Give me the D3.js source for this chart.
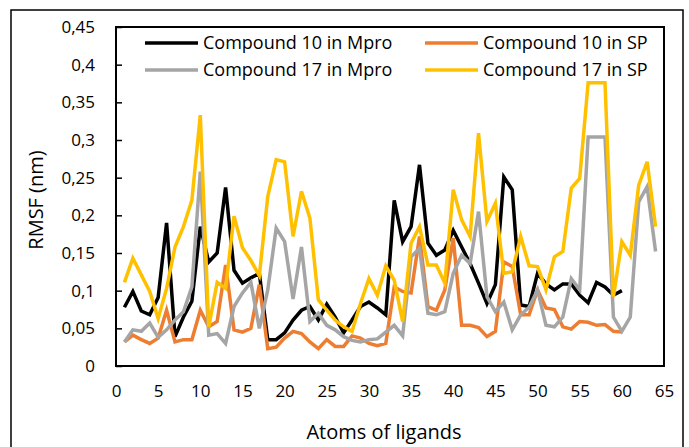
<!DOCTYPE html>
<html>
<head>
<meta charset="utf-8">
<script src="https://cdn.jsdelivr.net/npm/d3@7"></script>
<style>
  body { margin: 0; background: #fff; }
  svg text { font-family: "Open Sans", "Noto Sans", sans-serif; fill: #000; }
  .line { fill: none; stroke-width: 3.5; stroke-linejoin: miter; }
</style>
</head>
<body>
<div class="container"></div>
<script>
// RMSF per ligand atom (nm)
var c10Mpro = [0.078, 0.099, 0.073, 0.068, 0.091, 0.19, 0.039, 0.065, 0.086, 0.185,
  0.138, 0.15, 0.237, 0.127, 0.11, 0.117, 0.123, 0.035, 0.035, 0.044,
  0.061, 0.074, 0.079, 0.061, 0.082, 0.065, 0.044, 0.061, 0.079, 0.085,
  0.077, 0.068, 0.22, 0.165, 0.185, 0.267, 0.163, 0.147, 0.154, 0.18,
  0.158, 0.136, 0.11, 0.083, 0.108, 0.251, 0.234, 0.081, 0.079, 0.123,
  0.109, 0.101, 0.109, 0.109, 0.094, 0.084, 0.111, 0.105, 0.094, 0.1];
var c10SP = [0.032, 0.041, 0.035, 0.03, 0.037, 0.074, 0.032, 0.035, 0.035, 0.074,
  0.052, 0.059, 0.134, 0.048, 0.045, 0.05, 0.108, 0.023, 0.025, 0.037,
  0.046, 0.043, 0.032, 0.023, 0.035, 0.026, 0.026, 0.04, 0.037, 0.03,
  0.027, 0.03, 0.105, 0.099, 0.097, 0.172, 0.079, 0.074, 0.101, 0.17,
  0.054, 0.054, 0.051, 0.039, 0.046, 0.138, 0.132, 0.068, 0.068, 0.101,
  0.077, 0.075, 0.052, 0.049, 0.059, 0.058, 0.054, 0.055, 0.046, 0.045];
var c17Mpro = [0.032, 0.048, 0.046, 0.057, 0.038, 0.048, 0.061, 0.072, 0.105, 0.258,
  0.041, 0.043, 0.03, 0.079, 0.097, 0.111, 0.05, 0.101, 0.183, 0.165,
  0.089, 0.158, 0.059, 0.07, 0.054, 0.048, 0.039, 0.034, 0.032, 0.035,
  0.036, 0.045, 0.054, 0.04, 0.145, 0.156, 0.07, 0.068, 0.072, 0.123,
  0.147, 0.136, 0.205, 0.092, 0.072, 0.085, 0.048, 0.068, 0.078, 0.101,
  0.054, 0.052, 0.065, 0.116, 0.101, 0.304, 0.304, 0.304, 0.065, 0.046,
  0.065, 0.218, 0.238, 0.152];
var c17SP = [0.111, 0.143, 0.121, 0.099, 0.063, 0.103, 0.158, 0.185, 0.22, 0.333,
  0.052, 0.111, 0.103, 0.199, 0.157, 0.14, 0.12, 0.225, 0.274, 0.271,
  0.172, 0.232, 0.196, 0.088, 0.074, 0.061, 0.052, 0.046, 0.083, 0.116,
  0.094, 0.133, 0.114, 0.059, 0.163, 0.185, 0.134, 0.134, 0.11, 0.234,
  0.194, 0.172, 0.309, 0.192, 0.216, 0.123, 0.125, 0.172, 0.133, 0.132,
  0.101, 0.145, 0.152, 0.236, 0.249, 0.376, 0.376, 0.376, 0.092, 0.165,
  0.147, 0.24, 0.271, 0.185];

var seriesNames = ["Compound 10 in Mpro", "Compound 10 in SP", "Compound 17 in Mpro", "Compound 17 in SP"];
var seriesColors = ["#000000", "#ED7D31", "#A5A5A5", "#FFC000"];
var seriesData = [c10Mpro, c10SP, c17Mpro, c17SP];

var xTicks = d3.range(0, 66, 5);
var yTicks = d3.range(0, 0.4501, 0.05);

const WIDTH = 689;
const HEIGHT = 447;
const LEFT = 116, RIGHT = 664, TOP = 27, BOTTOM = 366;

var fmt = function (v) {
  if (v === 0) return "0";
  return d3.format(".2~f")(v).replace(".", ",");
};

var svg = d3.select('.container').append('svg')
  .attr('width', WIDTH)
  .attr('height', HEIGHT);

// outer chart border
svg.append('rect')
  .attr('x', 11).attr('y', 10)
  .attr('width', 672).attr('height', 460)
  .attr('fill', 'none').attr('stroke', '#000').attr('stroke-width', 1.5);

var xScale = d3.scaleLinear().domain([0, 65]).range([LEFT, RIGHT]);
var yScale = d3.scaleLinear().domain([0, 0.45]).range([BOTTOM, TOP]);

// plot area box
svg.append('rect')
  .attr('x', LEFT).attr('y', TOP)
  .attr('width', RIGHT - LEFT).attr('height', BOTTOM - TOP)
  .attr('fill', 'none').attr('stroke', '#000').attr('stroke-width', 2);

// y axis: small inward ticks
var yAxis = d3.axisLeft(yScale).tickValues(yTicks).tickFormat(fmt).tickSizeInner(-6).tickSizeOuter(0).tickPadding(21);
var gy = svg.append('g').attr('transform', 'translate(' + LEFT + ',0)').call(yAxis);
gy.select('.domain').remove();
gy.selectAll('.tick line').attr('stroke', '#000').attr('stroke-width', 1.5);
gy.selectAll('.tick text').style('font-size', '17px');

var xAxis = d3.axisBottom(xScale).tickValues(xTicks).tickSize(0).tickPadding(19);
var gx = svg.append('g').attr('transform', 'translate(0,' + BOTTOM + ')').call(xAxis);
gx.select('.domain').remove();
gx.selectAll('.tick text').style('font-size', '17px');

// series lines, drawn in series order (last one on top)
var line = d3.line()
  .x(function (v, i) { return xScale(i + 1); })
  .y(function (v) { return yScale(v); });

seriesData.forEach(function (d, k) {
  svg.append('path')
    .attr('class', 'line')
    .attr('stroke', seriesColors[k])
    .attr('d', line(d));
});

// legend
var legendPos = [[145, 43], [425, 43], [145, 70], [425, 70]];
seriesNames.forEach(function (name, k) {
  var g = svg.append('g').attr('transform', 'translate(' + legendPos[k][0] + ',' + legendPos[k][1] + ')');
  g.append('line').attr('x1', 0).attr('x2', 53).attr('y1', 0).attr('y2', 0)
    .attr('stroke', seriesColors[k]).attr('stroke-width', 3.5);
  g.append('text').attr('x', 58).attr('y', 0).attr('dy', '0.35em')
    .style('font-size', '18px').text(name);
});

// axis titles
svg.append('text')
  .attr('x', 384).attr('y', 432)
  .attr('text-anchor', 'middle').attr('dy', '0.35em')
  .style('font-size', '20px')
  .text('Atoms of ligands');

svg.append('text')
  .attr('transform', 'translate(36,200) rotate(-90)')
  .attr('text-anchor', 'middle').attr('dy', '0.35em')
  .style('font-size', '20px')
  .text('RMSF (nm)');
</script>
</body>
</html>
